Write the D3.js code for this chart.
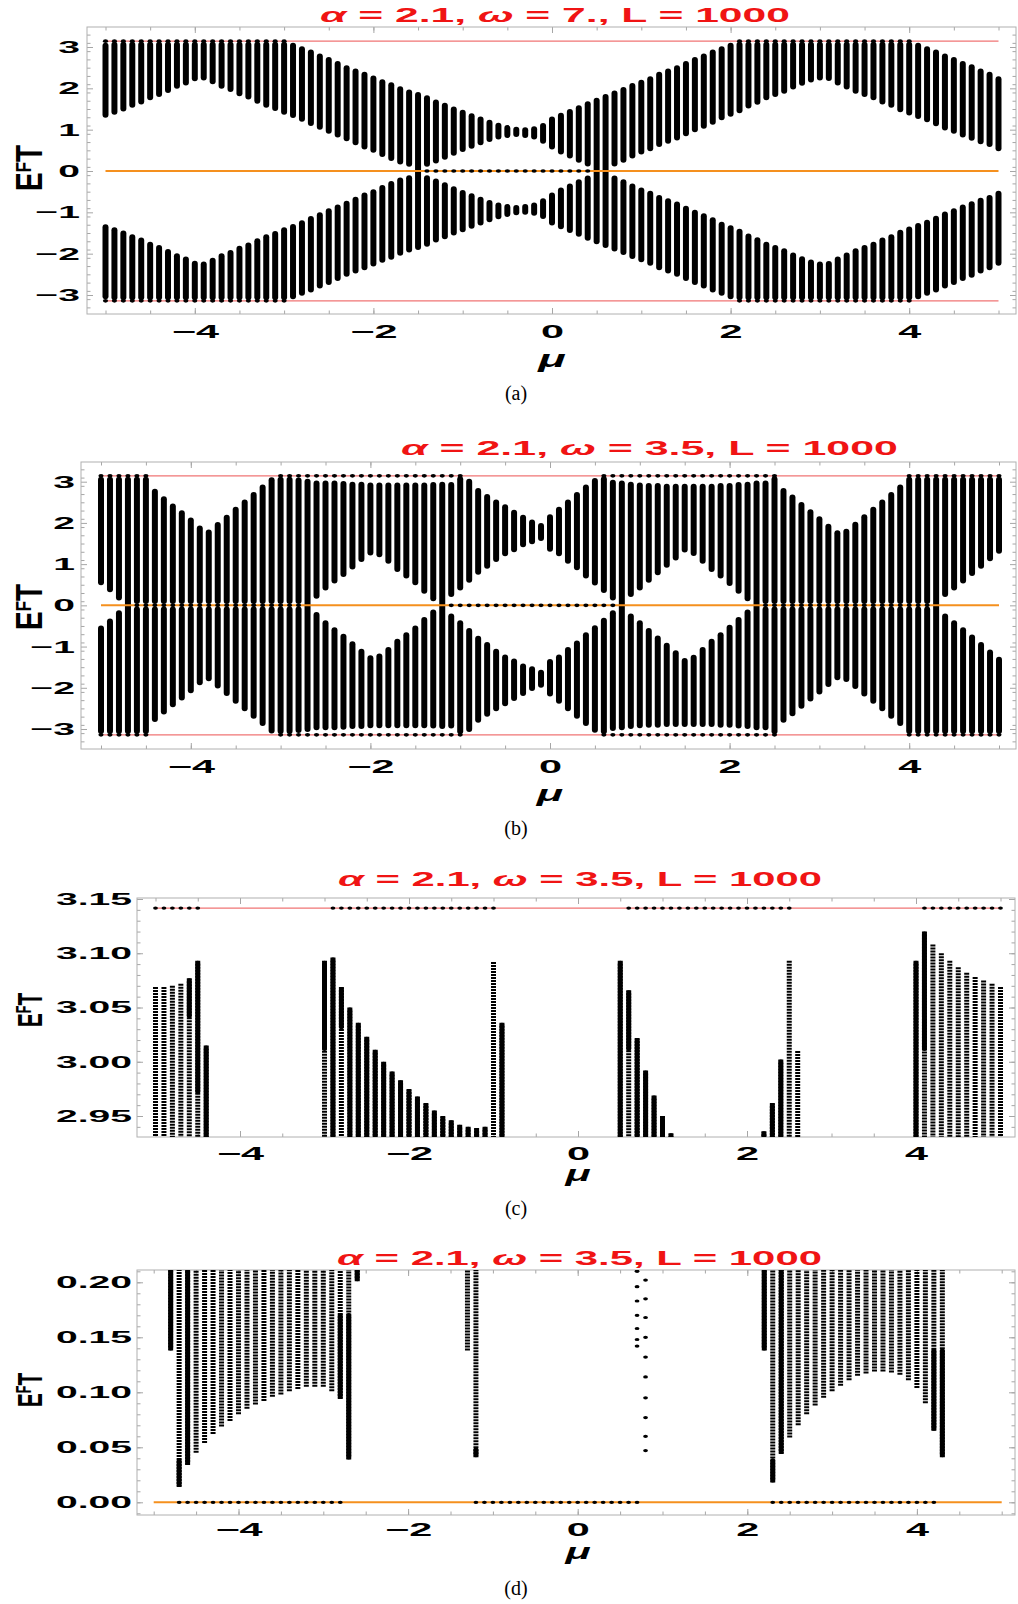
<!DOCTYPE html>
<html>
<head>
<meta charset="utf-8">
<script src="https://cdn.jsdelivr.net/npm/d3@7"></script>
<style>
  body { margin: 0; background: #fff; }
  svg { display: block; }
</style>
</head>
<body>
<div id="chart"></div>
<script>
// mu grid of the spectra: -5.0 ... 5.0 in steps of 0.1
const muGrid = d3.range(-50, 51).map(i => i / 10);

// tick labels
const xMajorTicks = [-4, -2, 0, 2, 4];
const yTicksAB = [-3, -2, -1, 0, 1, 2, 3];
const yTicksC = [2.95, 3.00, 3.05, 3.10, 3.15];
const yTicksD = [0, 0.05, 0.10, 0.15, 0.20];

// (a) alpha = 2.1, omega = 7 : upper band [lo, hi] per mu (lower band is the mirror); lo = 0 -> band closes
const aLo = [
  1.29, 1.36, 1.44, 1.53, 1.61, 1.71, 1.79, 1.89, 1.99, 2.07,
  2.17, 2.19, 2.10, 1.99, 1.91, 1.81, 1.73, 1.63, 1.53, 1.45,
  1.36, 1.28, 1.19, 1.09, 1.00, 0.90, 0.81, 0.72, 0.62, 0.52,
  0.44, 0.34, 0.24, 0.16, 0.10, 0, 0.10, 0.18, 0.27, 0.37,
  0.46, 0.54, 0.62, 0.70, 0.76, 0.80, 0.82, 0.80, 0.76, 0.66,
  0.52, 0.40, 0.30, 0.20, 0.11, 0, 0, 0.11, 0.20, 0.30,
  0.40, 0.48, 0.58, 0.66, 0.74, 0.84, 0.94, 1.02, 1.12, 1.23,
  1.31, 1.40, 1.51, 1.60, 1.71, 1.79, 1.87, 1.97, 2.06, 2.14,
  2.19, 2.18, 2.07, 1.97, 1.87, 1.79, 1.71, 1.61, 1.53, 1.42,
  1.34, 1.26, 1.18, 1.08, 0.98, 0.90, 0.81, 0.73, 0.65, 0.58,
  0.48
];
const aHi = [
  3.10, 3.13, 3.13, 3.13, 3.13, 3.13, 3.13, 3.13, 3.13, 3.13,
  3.13, 3.13, 3.13, 3.13, 3.13, 3.13, 3.13, 3.13, 3.13, 3.13,
  3.13, 3.10, 3.02, 2.94, 2.84, 2.76, 2.66, 2.56, 2.48, 2.40,
  2.31, 2.22, 2.15, 2.05, 1.97, 1.91, 1.83, 1.73, 1.65, 1.56,
  1.48, 1.40, 1.32, 1.24, 1.17, 1.11, 1.07, 1.06, 1.08, 1.16,
  1.32, 1.41, 1.50, 1.59, 1.69, 1.77, 1.86, 1.95, 2.03, 2.13,
  2.21, 2.29, 2.40, 2.48, 2.56, 2.66, 2.76, 2.84, 2.94, 3.02,
  3.10, 3.13, 3.13, 3.13, 3.13, 3.13, 3.13, 3.13, 3.13, 3.13,
  3.13, 3.13, 3.13, 3.13, 3.13, 3.13, 3.13, 3.13, 3.13, 3.13,
  3.13, 3.10, 3.02, 2.94, 2.84, 2.76, 2.66, 2.58, 2.48, 2.40,
  2.29
];
const aZeroRanges = [[-1.4, 0.4]];
const aPiRanges = [[-5.0, -3.0], [2.1, 4.0]];

// (b) alpha = 2.1, omega = 3.5
const bLo = [
  0.49, 0.32, 0.12, 0, 0.03, 0.03, 0.03, 0.03, 0.03, 0.03,
  0.03, 0.03, 0.03, 0.03, 0.03, 0.03, 0.03, 0.03, 0.03, 0.03,
  0.03, 0.03, 0.03, 0, 0.16, 0.36, 0.53, 0.69, 0.87, 1.05,
  1.21, 1.17, 1.01, 0.81, 0.65, 0.49, 0.28, 0.10, 0, 0.20,
  0.36, 0.55, 0.74, 0.89, 1.05, 1.19, 1.29, 1.41, 1.48, 1.56,
  1.30, 1.19, 1.01, 0.85, 0.65, 0.48, 0.30, 0.12, 0, 0.20,
  0.36, 0.55, 0.73, 0.91, 1.09, 1.28, 1.20, 1.01, 0.81, 0.65,
  0.47, 0.28, 0.10, 0, 0.03, 0.03, 0.03, 0.03, 0.03, 0.03,
  0.03, 0.03, 0.03, 0.03, 0.03, 0.03, 0.03, 0.03, 0.03, 0.03,
  0.03, 0.03, 0.03, 0, 0.20, 0.36, 0.53, 0.71, 0.89, 1.07,
  1.25
];
const bHi = [
  3.12, 3.12, 3.12, 3.12, 3.12, 3.12, 2.83, 2.65, 2.47, 2.31,
  2.13, 1.94, 1.84, 2.02, 2.20, 2.39, 2.57, 2.75, 2.93, 3.11,
  3.12, 3.12, 3.10, 3.07, 3.03, 3.03, 3.03, 3.02, 3.00, 3.00,
  2.98, 2.98, 2.98, 2.98, 2.98, 2.98, 2.98, 2.99, 3.00, 2.99,
  3.13, 3.07, 2.85, 2.70, 2.57, 2.45, 2.32, 2.20, 2.08, 2.00,
  2.21, 2.39, 2.57, 2.75, 2.93, 3.09, 3.13, 3.05, 3.03, 3.00,
  2.98, 2.97, 2.97, 2.95, 2.95, 2.95, 2.95, 2.95, 2.95, 2.97,
  2.97, 2.99, 3.00, 3.03, 3.03, 3.13, 2.85, 2.69, 2.51, 2.33,
  2.16, 1.98, 1.82, 1.86, 2.03, 2.21, 2.39, 2.57, 2.75, 2.93,
  3.12, 3.12, 3.12, 3.12, 3.12, 3.12, 3.12, 3.12, 3.12, 3.12,
  3.12
];
const bZeroRanges = [[-4.6, -2.8], [-1.1, 0.7], [2.4, 4.2]];
const bPiRanges = [[-5.0, -4.5], [-3.0, -1.0], [0.6, 2.5], [4.0, 5.0]];

// (c) close-up near E = pi : top of each column, and lower end of its dense (solid) part (null = sparse only)
const cMu = [-5.0, -4.9, -4.8, -4.7, -4.6, -4.5, -4.4,
  -3.0, -2.9, -2.8, -2.7, -2.6, -2.5, -2.4, -2.3, -2.2, -2.1, -2.0, -1.9, -1.8, -1.7, -1.6, -1.5, -1.4, -1.3, -1.2, -1.1, -1.0, -0.9,
  0.5, 0.6, 0.7, 0.8, 0.9, 1.0, 1.1,
  2.2, 2.3, 2.4, 2.5, 2.6,
  4.0, 4.1, 4.2, 4.3, 4.4, 4.5, 4.6, 4.7, 4.8, 4.9, 5.0];
const cTop = [3.069, 3.069, 3.070, 3.072, 3.077, 3.093, 3.015,
  3.093, 3.096, 3.069, 3.050, 3.036, 3.023, 3.011, 3.000, 2.991, 2.983, 2.975, 2.968, 2.962, 2.955, 2.950, 2.946, 2.942, 2.940, 2.939, 2.940, 3.092, 3.036,
  3.093, 3.066, 3.022, 2.992, 2.969, 2.950, 2.934,
  2.936, 2.962, 3.002, 3.093, 3.010,
  3.093, 3.120, 3.108, 3.100, 3.093, 3.087, 3.082, 3.078, 3.075, 3.072, 3.069];
const cSolidLow = [null, null, null, null, 3.04, 2.97, 2.90,
  3.01, 2.90, 3.03, 2.90, 2.90, 2.90, 2.90, 2.90, 2.90, 2.90, 2.90, 2.90, 2.90, 2.90, 2.90, 2.90, 2.90, 2.90, 2.90, 2.90, null, 2.90,
  2.90, 3.01, 2.90, 2.90, 2.90, 2.90, 2.90,
  2.90, 2.90, 2.90, null, null,
  2.90, 3.01, null, null, null, null, null, null, null, null, null];
const cPiRanges = [[-5.0, -4.5], [-2.9, -1.0], [0.6, 2.5], [4.1, 5.0]];

// (d) close-up near E = 0 : lower end of each column, and upper end of its dense (solid) part
const dMu = [-4.8, -4.7, -4.6, -4.5, -4.4, -4.3, -4.2, -4.1, -4.0, -3.9, -3.8, -3.7, -3.6, -3.5, -3.4, -3.3, -3.2, -3.1, -3.0, -2.9, -2.8, -2.7, -2.6,
  -1.3, -1.2,
  2.2, 2.3, 2.4, 2.5, 2.6, 2.7, 2.8, 2.9, 3.0, 3.1, 3.2, 3.3, 3.4, 3.5, 3.6, 3.7, 3.8, 3.9, 4.0, 4.1, 4.2, 4.3];
const dLow = [0.138, 0.014, 0.034, 0.045, 0.054, 0.062, 0.069, 0.074, 0.080, 0.085, 0.089, 0.092, 0.096, 0.098, 0.101, 0.103, 0.105, 0.105, 0.105, 0.101, 0.094, 0.039, 0.201,
  0.138, 0.041,
  0.138, 0.018, 0.044, 0.059, 0.070, 0.080, 0.088, 0.095, 0.101, 0.106, 0.111, 0.115, 0.117, 0.119, 0.119, 0.118, 0.116, 0.111, 0.104, 0.090, 0.065, 0.041];
const dSolidTop = [0.30, 0.040, 0.30, null, null, null, null, null, null, null, null, null, null, null, null, null, null, null, null, null, 0.172, 0.172, 0.30,
  null, 0.050,
  0.30, 0.040, 0.30, null, null, null, null, null, null, null, null, null, null, null, null, null, null, null, null, null, 0.14, 0.14];
const dZeroRanges = [[-4.7, -2.8], [-1.2, 0.7], [2.3, 4.2]];
// isolated states
const dIsoMu07 = [0.210, 0.196, 0.183, 0.170, 0.158, 0.148, 0.142];
const dIsoMu08 = [0.202, 0.185, 0.168, 0.150, 0.132, 0.114, 0.095, 0.077, 0.060, 0.047];

// ---------------------------------------------------------------------------
const FONT = "'Liberation Sans', Arial, Helvetica, sans-serif";
const STRETCH = 2.3;          // the original figure is stretched horizontally
const RED = "#f07575";
const ORANGE = "#f5901e";
const TITLE_RED = "#f01414";
const DOTS = "2 1";

const svg = d3.select("#chart").append("svg")
  .attr("width", 1018)
  .attr("height", 1604)
  .attr("viewBox", [0, 0, 1018, 1604]);

function makePanel(c) {
  const [L, R, T, B] = c.box;
  const x = d3.scaleLinear().domain([-5, 5]).range(c.xr);
  const y = d3.scaleLinear().domain(c.yd).range(c.yr);

  const clipId = "clip-" + c.id;
  svg.append("clipPath").attr("id", clipId)
    .append("rect").attr("x", L).attr("y", T).attr("width", R - L).attr("height", B - T);

  const yMinor = c.yMinor.filter(v => y(v) >= T - 0.5 && y(v) <= B + 0.5);
  const xMinor = d3.range(-10, 11).map(v => v / 2).filter(v => x(v) >= L && x(v) <= R);

  const axes = svg.append("g").attr("color", "#a6a6a6");
  function side(make, scale, tf, major, minor, fmt) {
    axes.append("g").attr("transform", tf)
      .call(make(scale).tickValues(minor).tickSize(-3.5).tickFormat(() => ""))
      .call(g => g.select(".domain").remove());
    return axes.append("g").attr("transform", tf)
      .call(make(scale).tickValues(major).tickSize(-6).tickFormat(fmt || (() => "")))
      .call(g => g.select(".domain").remove());
  }
  const gl = side(d3.axisLeft, y, `translate(${L},0)`, c.yMajor, yMinor, c.yFmt);
  side(d3.axisRight, y, `translate(${R},0)`, c.yMajor, yMinor);
  const gb = side(d3.axisBottom, x, `translate(0,${B})`, xMajorTicks, xMinor, d3.format("d"));
  side(d3.axisTop, x, `translate(0,${T})`, xMajorTicks, xMinor);

  gl.selectAll(".tick text")
    .attr("fill", "#000").attr("font-family", FONT).attr("font-weight", "bold").attr("font-size", 17)
    .attr("x", -c.yGap / STRETCH).attr("transform", `scale(${STRETCH},1)`);
  gb.selectAll(".tick text")
    .attr("fill", "#000").attr("font-family", FONT).attr("font-weight", "bold").attr("font-size", 18)
    .attr("y", c.xGap).attr("transform", `scale(${STRETCH},1)`);

  svg.append("rect")
    .attr("x", L).attr("y", T).attr("width", R - L).attr("height", B - T)
    .attr("fill", "none").attr("stroke", "#b0b0b0").attr("stroke-width", 1);

  const plot = svg.append("g").attr("clip-path", `url(#${clipId})`);
  return { x, y, plot, L, R, T, B };
}

function hLine(P, v, color, w) {
  P.plot.append("line")
    .attr("x1", P.x(-5)).attr("x2", P.x(5))
    .attr("y1", P.y(v)).attr("y2", P.y(v))
    .attr("stroke", color).attr("stroke-width", w);
}

function bandBars(P, lo, hi, w) {
  const segs = [];
  muGrid.forEach((m, i) => {
    if (lo[i] === 0) {
      segs.push({ m, a: -hi[i], b: hi[i] });
    } else {
      segs.push({ m, a: lo[i], b: hi[i] });
      segs.push({ m, a: -hi[i], b: -lo[i] });
    }
  });
  P.plot.append("g").selectAll("rect").data(segs).join("rect")
    .attr("x", d => P.x(d.m) - w / 2)
    .attr("width", w)
    .attr("y", d => P.y(d.b))
    .attr("height", d => P.y(d.a) - P.y(d.b))
    .attr("rx", w / 2)
    .attr("fill", "#000");
}

function dotRows(P, ranges, levels, rx, ry) {
  const pts = [];
  ranges.forEach(([a, b]) => {
    d3.range(Math.round(a * 10), Math.round(b * 10) + 1).forEach(k => {
      levels.forEach(v => pts.push({ m: k / 10, v }));
    });
  });
  P.plot.append("g").selectAll("ellipse").data(pts).join("ellipse")
    .attr("cx", d => P.x(d.m)).attr("cy", d => P.y(d.v))
    .attr("rx", rx).attr("ry", ry).attr("fill", "#000");
}

function title(x0, x1, base, omega) {
  const t = svg.append("text")
    .attr("x", x0).attr("y", base)
    .attr("textLength", x1 - x0).attr("lengthAdjust", "spacingAndGlyphs")
    .attr("font-family", FONT).attr("font-weight", "bold").attr("font-size", 21)
    .attr("fill", TITLE_RED)
    .attr("xml:space", "preserve");
  t.append("tspan").attr("font-style", "italic").text("α");
  t.append("tspan").text(" = 2.1, ");
  t.append("tspan").attr("font-style", "italic").text("ω");
  t.append("tspan").text(` = ${omega}, L = 1000`);
}

function yLabel(bx, cy, fs, sc) {
  const t = svg.append("text")
    .attr("transform", `translate(${bx},${cy}) rotate(-90) scale(1,${sc})`)
    .attr("text-anchor", "middle")
    .attr("font-family", FONT).attr("font-weight", "bold").attr("font-size", fs)
    .attr("fill", "#000");
  t.append("tspan").text("E");
  t.append("tspan").attr("font-size", fs * 0.6).attr("dy", -fs * 0.3).text("F");
  t.append("tspan").attr("dy", fs * 0.3).text("T");
}

function muLabel(cx, base, fs) {
  svg.append("text")
    .attr("transform", `translate(${cx},${base}) scale(1.9,1)`)
    .attr("text-anchor", "middle")
    .attr("font-family", FONT).attr("font-weight", "bold").attr("font-style", "italic")
    .attr("font-size", fs).attr("fill", "#000")
    .text("μ");
}

function caption(base, s) {
  svg.append("text")
    .attr("x", 516).attr("y", base)
    .attr("text-anchor", "middle")
    .attr("font-family", "'Liberation Serif', 'DejaVu Serif', serif")
    .attr("font-size", 20).attr("fill", "#000")
    .text(s);
}

// ---------------- panel (a)
const A = makePanel({
  id: "a", box: [87, 1016, 27, 314], xr: [105.5, 998.5], yd: [-3, 3], yr: [295, 47],
  yMajor: yTicksAB, yMinor: d3.range(-35, 36, 2).map(v => v / 10), yFmt: d3.format("d"), yGap: 7, xGap: 11
});
hLine(A, Math.PI, RED, 1.2);
hLine(A, -Math.PI, RED, 1.2);
bandBars(A, aLo, aHi, 6);
hLine(A, 0, ORANGE, 2);
dotRows(A, aZeroRanges, [0], 2.6, 1.8);
dotRows(A, aPiRanges, [Math.PI, -Math.PI], 2.6, 1.8);
title(320, 790, 22, "7.");
yLabel(42, 168, 28, 1.3);
muLabel(552, 367, 24);
caption(400, "(a)");

// ---------------- panel (b)
const Bp = makePanel({
  id: "b", box: [81, 1016, 462, 749], xr: [101, 999], yd: [-3, 3], yr: [729, 481.7],
  yMajor: yTicksAB, yMinor: d3.range(-35, 36, 2).map(v => v / 10), yFmt: d3.format("d"), yGap: 6, xGap: 11
});
hLine(Bp, Math.PI, RED, 1.2);
hLine(Bp, -Math.PI, RED, 1.2);
bandBars(Bp, bLo, bHi, 6);
hLine(Bp, 0, ORANGE, 2);
dotRows(Bp, bZeroRanges, [0], 2.6, 1.8);
dotRows(Bp, bPiRanges, [Math.PI, -Math.PI], 2.6, 1.8);
title(401, 898, 455, "3.5");
yLabel(42, 607, 28, 1.3);
muLabel(550, 801, 23);
caption(835, "(b)");

// ---------------- panel (c)
const C = makePanel({
  id: "c", box: [137, 1015, 898, 1137], xr: [155.5, 1000.5], yd: [2.95, 3.15], yr: [1116, 899],
  yMajor: yTicksC, yMinor: d3.range(293, 316).map(v => v / 100), yFmt: d3.format(".2f"), yGap: 5, xGap: 10
});
hLine(C, Math.PI, RED, 1.2);
{
  const rows = cMu.map((m, i) => ({ m, top: cTop[i], sl: cSolidLow[i] }));
  C.plot.append("g").selectAll("line").data(rows).join("line")
    .attr("x1", d => C.x(d.m)).attr("x2", d => C.x(d.m))
    .attr("y1", d => C.y(d.top)).attr("y2", C.B + 4)
    .attr("stroke", "#000").attr("stroke-width", 5).attr("stroke-dasharray", DOTS);
  C.plot.append("g").selectAll("rect").data(rows.filter(d => d.sl !== null)).join("rect")
    .attr("x", d => C.x(d.m) - 2.5).attr("width", 5)
    .attr("y", d => C.y(d.top))
    .attr("height", d => C.y(d.sl) - C.y(d.top))
    .attr("rx", 2.5).attr("fill", "#000");
}
dotRows(C, cPiRanges, [Math.PI], 2.4, 1.6);
title(338, 822, 886, "3.5");
yLabel(42, 1010, 21, 1.7);
muLabel(578, 1181, 22);
caption(1215, "(c)");

// ---------------- panel (d)
const D = makePanel({
  id: "d", box: [137, 1015, 1270, 1515], xr: [153.7, 1001.7], yd: [0, 0.2], yr: [1502.3, 1282.3],
  yMajor: yTicksD, yMinor: d3.range(-1, 22).map(v => v / 100), yFmt: d3.format(".2f"), yGap: 5, xGap: 8
});
hLine(D, 0, ORANGE, 2);
{
  const rows = dMu.map((m, i) => ({ m, low: dLow[i], st: dSolidTop[i] }));
  D.plot.append("g").selectAll("line").data(rows).join("line")
    .attr("x1", d => D.x(d.m)).attr("x2", d => D.x(d.m))
    .attr("y1", d => D.y(d.low)).attr("y2", D.T - 4)
    .attr("stroke", "#000").attr("stroke-width", 5).attr("stroke-dasharray", DOTS);
  D.plot.append("g").selectAll("rect").data(rows.filter(d => d.st !== null)).join("rect")
    .attr("x", d => D.x(d.m) - 2.5).attr("width", 5)
    .attr("y", d => D.y(d.st))
    .attr("height", d => D.y(d.low) - D.y(d.st))
    .attr("rx", 2.5).attr("fill", "#000");
  const iso = dIsoMu07.map(v => ({ m: 0.7, v })).concat(dIsoMu08.map(v => ({ m: 0.8, v })));
  D.plot.append("g").selectAll("ellipse").data(iso).join("ellipse")
    .attr("cx", d => D.x(d.m)).attr("cy", d => D.y(d.v))
    .attr("rx", 2.4).attr("ry", 1.6).attr("fill", "#000");
}
dotRows(D, dZeroRanges, [0], 2.4, 1.6);
title(337, 822, 1265, "3.5");
yLabel(42, 1390, 21, 1.7);
muLabel(578, 1559, 22);
caption(1595, "(d)");
</script>
</body>
</html>
